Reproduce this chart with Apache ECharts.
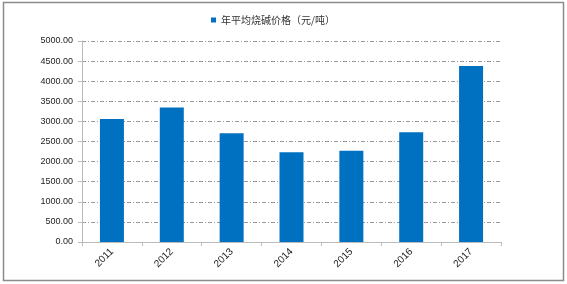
<!DOCTYPE html>
<html><head><meta charset="utf-8">
<script src="https://cdn.jsdelivr.net/npm/echarts@6/dist/echarts.min.js"></script>
<style>html,body{margin:0;padding:0;background:#fff}#c{width:567px;height:284px}</style>
</head><body><div id="c"></div>
<script>
const categories = ['2011','2012','2013','2014','2015','2016','2017'];
const seriesName = '年平均烧碱价格（元/吨）';
const values = [3060, 3345, 2705, 2235, 2270, 2730, 4378];
const yTicks = {min: 0, max: 5000, interval: 500};

const chart = echarts.init(document.getElementById('c'), null, {renderer: 'canvas'});
chart.setOption({
  animation: false,
  backgroundColor: '#fff',
  graphic: [{type: 'rect', shape: {x: 3.5, y: 2.5, width: 560, height: 278}, style: {fill: 'none', stroke: '#8c8c8c', lineWidth: 1.5}}],
  legend: {
    top: 10, left: 206, itemWidth: 5, itemHeight: 5, itemGap: 3,
    textStyle: {fontSize: 10, color: '#333', fontFamily: 'Noto Sans CJK SC'},
    data: [{name: seriesName, icon: 'rect'}]
  },
  grid: {left: 82, right: 66, top: 41, bottom: 42, containLabel: false},
  xAxis: {
    type: 'category', data: categories,
    axisLine: {lineStyle: {color: '#bbb'}},
    axisTick: {show: true, length: 4, lineStyle: {color: '#bbb'}},
    axisLabel: {rotate: 45, fontSize: 10, color: '#222', margin: 8, fontFamily: 'Liberation Sans'}
  },
  yAxis: {
    type: 'value', min: yTicks.min, max: yTicks.max, interval: yTicks.interval,
    axisLine: {show: true, lineStyle: {color: '#bbb'}},
    axisTick: {show: true, length: 4, lineStyle: {color: '#bbb'}},
    axisLabel: {fontSize: 9, color: '#222', margin: 9, fontFamily: 'Liberation Sans', formatter: v => v.toFixed(2)},
    splitLine: {show: true, lineStyle: {color: '#999', type: [4, 2, 1, 2], width: 1}}
  },
  series: [{
    name: seriesName, type: 'bar', data: values, barWidth: 24,
    itemStyle: {color: '#0070c0'}
  }]
});
</script></body></html>
